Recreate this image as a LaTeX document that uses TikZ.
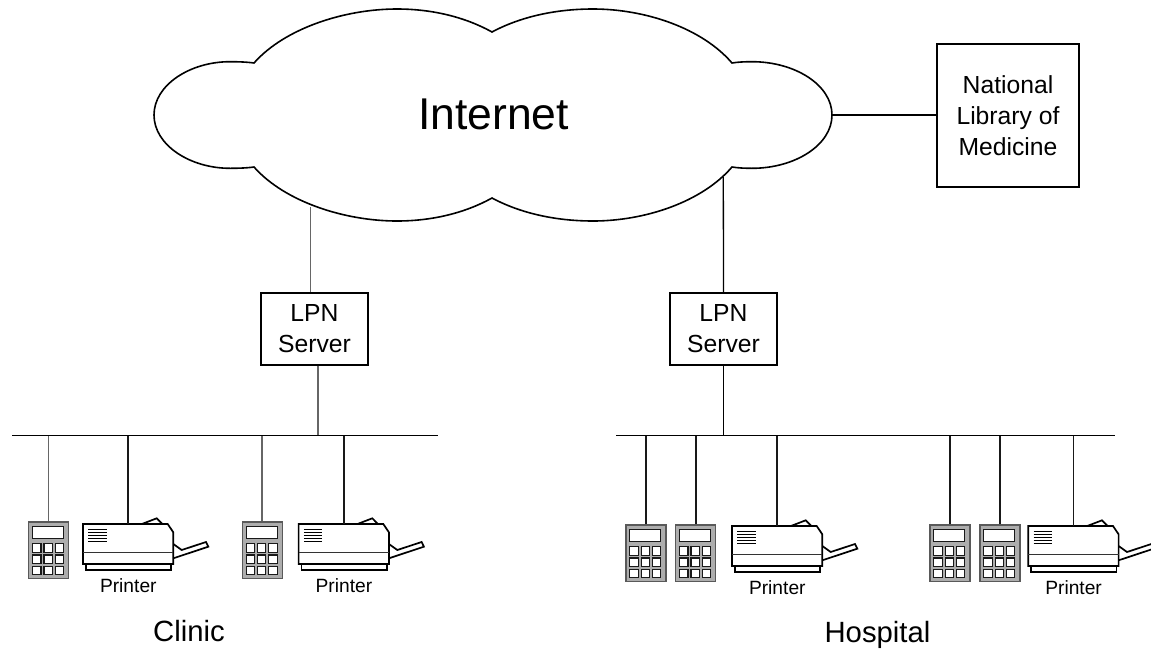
\documentclass[tikz,border=0pt]{standalone}
\usepackage{fontspec}
\setmainfont{Liberation Sans}
\tikzset{
  unitbox/.style={draw=black,line width=1.8pt,fill=white,inner sep=0pt,align=center,font=\fontsize{24.7}{31}\selectfont},
  biglabel/.style={inner sep=0pt,anchor=base,font=\fontsize{29.3}{35}\selectfont},
  printlabel/.style={inner sep=0pt,anchor=base,font=\fontsize{19.2}{23}\selectfont},
  calcbody/.style={draw=black!65,fill=black!32,line width=1.3pt,minimum width=40pt,minimum height=56.7pt,inner sep=0pt,anchor=north west},
  calckey/.style={draw=black!90,fill=white,line width=1.1pt},
  printbody/.style={minimum width=90pt,minimum height=40pt,inner sep=0pt,anchor=north west},
  printline/.style={draw=black,line width=1.7pt,fill=white,line join=miter},
  busline/.style={line width=1.8pt,black},
  thinlink/.style={line width=1.3pt,black},
  greylink/.style={line width=1.4pt,black!60},
  droplink/.style={line width=1.8pt,black!90},
}
\newcommand{\calcunit}[2]{%
  \node[calcbody] (#1) at (#2) {};
  \begin{scope}[shift={(#2)}]
    \draw[calckey] (4.6,5.4) rectangle (35.6,17);
    \foreach \ky/\kb in {22.4/31,33.7/42,45/53.4}
      \foreach \kx/\kr in {4.6/13,16/24.3,27.3/35.6}
        \draw[calckey] (\kx,\ky) rectangle (\kr,\kb);
  \end{scope}}
\newcommand{\printerunit}[2]{%
  \begin{scope}[shift={(#2)}]
    \draw[printline] (90.3,20) -- (98.7,26) -- (123,18) -- (125.3,22.7) -- (90.3,34.3);
    \draw[printline] (56.3,1) -- (73.7,-5.7) -- (79.3,0);
    \draw[printline] (3,40) -- (3,45.7) -- (88.3,45.7) -- (88.3,40);
    \draw[printline] (0,0) -- (84.7,0) -- (90.3,8.3) -- (90.3,40) -- (0,40) -- cycle;
    \draw[line width=1.1pt,black!80] (0,28.3) -- (90.3,28.3);
    \foreach \ly in {5.3,8.3,11.3,14.3,17.3}
      \draw[line width=0.8pt,black] (5.3,\ly) -- (23.7,\ly);
    \node[printlabel] (#1lab) at (45.3,68.3) {Printer};
  \end{scope}
  \node[printbody] (#1) at (#2) {};}
\begin{document}
\begin{tikzpicture}[x=1pt,y=-1pt]
\useasboundingbox (0,0) rectangle (1151,651);
\clip (0,0) rectangle (1151,651);
% anchors on the cloud and the buses
\coordinate (cloudA) at (310.7,207);
\coordinate (cloudB) at (723.3,177);
\coordinate (cloudC) at (832,115);
\coordinate (busAl) at (12,435.5);
\coordinate (busAr) at (437.5,435.5);
\coordinate (busBl) at (616,435.5);
\coordinate (busBr) at (1115,435.5);
\coordinate (busAs) at (318,435.5);
% cloud
\draw[line width=1.6pt,fill=white,line join=miter]
  (254,63) .. controls (285,28) and (345,9) .. (397,9)
  .. controls (432,9) and (465,17) .. (492,32)
  .. controls (520,17) and (555,9) .. (593,9)
  .. controls (645,9) and (702,28) .. (732,63)
  .. controls (738,62) and (745,61.7) .. (752,61.7)
  .. controls (795,61.7) and (832,85) .. (832,115)
  .. controls (832,145) and (795,168.3) .. (752,168.3)
  .. controls (745,168.3) and (738,168) .. (732,167)
  .. controls (702,202) and (645,221) .. (593,221)
  .. controls (555,221) and (520,213) .. (492,198)
  .. controls (465,213) and (432,221) .. (397,221)
  .. controls (345,221) and (285,202) .. (254,167)
  .. controls (247,168) and (238,168.3) .. (230,168.3)
  .. controls (190,168.3) and (154,145) .. (154,115)
  .. controls (154,85) and (190,61.7) .. (230,61.7)
  .. controls (238,61.7) and (247,62) .. (254,63) -- cycle;
\node[inner sep=0pt,anchor=base,font=\fontsize{44.5}{50}\selectfont] (inet) at (493.5,129) {Internet};
% boxes
\node[unitbox,minimum width=142.3pt,minimum height=142.7pt] (nlm) at (1008,115.3) {National\\Library of\\Medicine};
\node[unitbox,minimum width=107pt,minimum height=71.4pt] (lpnA) at (314.5,329) {LPN\\Server};
\node[unitbox,minimum width=107pt,minimum height=71.4pt] (lpnB) at (723.5,329) {LPN\\Server};
% devices
\calcunit{ca}{28,521.3}
\printerunit{pa}{83,524}
\calcunit{cb}{241.5,521.3}
\printerunit{pb}{298.6,524}
\calcunit{cc}{625.3,524.3}
\calcunit{cd}{675,524.3}
\printerunit{pc}{732,526}
\calcunit{ce}{929.3,524.3}
\calcunit{cf}{979.2,524.3}
\printerunit{pd}{1028.3,526}
% connectors
\draw[thinlink] (cloudC) -- (cloudC -| nlm.west);
\draw[greylink] (cloudA) -- (cloudA |- lpnA.north);
\draw[greylink] (lpnA.south -| busAs) -- (busAs);
\draw[thinlink] (cloudB) -- (lpnB.north);
\draw[thinlink] (lpnB.south) -- (lpnB.south |- busBl);
\draw[busline] (busAl) -- (busAr);
\draw[busline] (busBl) -- (busBr);
\draw[greylink] (ca.north) -- (ca.north |- busAl);
\draw[droplink] (pa.north) -- (pa.north |- busAl);
\draw[greylink] (cb.north) -- (cb.north |- busAl);
\draw[droplink] (pb.north) -- (pb.north |- busAl);
\draw[droplink] (cc.north) -- (cc.north |- busBl);
\draw[droplink] (cd.north) -- (cd.north |- busBl);
\draw[droplink] (pc.north) -- (pc.north |- busBl);
\draw[droplink] (ce.north) -- (ce.north |- busBl);
\draw[droplink] (cf.north) -- (cf.north |- busBl);
\draw[droplink] (pd.north) -- (pd.north |- busBl);
% captions
\node[biglabel] (clinic) at (189,641.7) {Clinic};
\node[biglabel] (hosp) at (877.5,642.5) {Hospital};
\end{tikzpicture}
\end{document}
